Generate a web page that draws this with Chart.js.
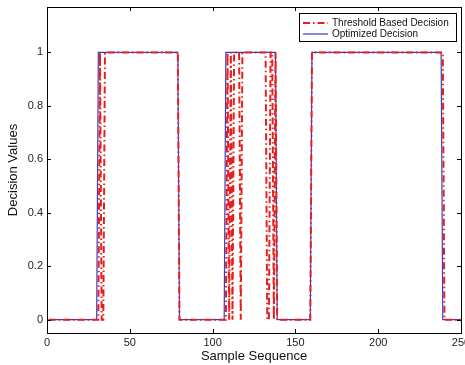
<!DOCTYPE html>
<html>
<head>
<meta charset="utf-8">
<script src="https://cdn.jsdelivr.net/npm/chart.js@4/dist/chart.umd.min.js"></script>
<style>
  html, body { margin: 0; padding: 0; background: #fff; }
  canvas { display: block; }
</style>
</head>
<body>
<canvas id="chart" width="465" height="365"></canvas>
<script>
// sample positions where the decisions switch
const thresholdX = [1, 31, 32, 33, 34, 35, 79, 80, 108, 109, 110, 111, 112, 113, 116, 117, 118, 132, 133, 134, 135, 136, 137, 138, 139, 159, 160, 239, 240, 250]
const thresholdY = [0, 0, 1, 0, 0, 1, 1, 0, 0, 1, 0, 1, 0, 1, 1, 0, 1, 1, 0, 0, 1, 1, 0, 1, 0, 0, 1, 1, 0, 0]
const optimizedX = [1, 30, 31, 79, 80, 107, 108, 138, 139, 159, 160, 238, 239, 250]
const optimizedY = [0, 0, 1, 1, 0, 0, 1, 1, 0, 0, 1, 1, 0, 0]

const xTicks = [0, 50, 100, 150, 200, 250]
const yTicks = [0, 0.2, 0.4, 0.6, 0.8, 1]
const seriesNames = ["Threshold Based Decision", "Optimized Decision"]

const FONT = "'Liberation Sans', Arial, Helvetica, sans-serif"
const toPoints = (xs, ys) => xs.map((x, i) => ({ x, y: ys[i] }))

// matlab style box with inward ticks + legend in the corner
const matlabBox = {
  id: "matlabBox",
  afterDraw(chart) {
    const { ctx, chartArea: a, scales } = chart
    const len = 4
    ctx.save()
    ctx.strokeStyle = "#000"
    ctx.lineWidth = 1
    ctx.strokeRect(Math.round(a.left) + 0.5, Math.round(a.top) + 0.5, Math.round(a.right - a.left), Math.round(a.bottom - a.top))
    ctx.beginPath()
    xTicks.forEach(v => {
      const px = Math.round(scales.x.getPixelForValue(v)) + 0.5
      ctx.moveTo(px, a.bottom); ctx.lineTo(px, a.bottom - len)
      ctx.moveTo(px, a.top); ctx.lineTo(px, a.top + len)
    })
    yTicks.forEach(v => {
      const py = Math.round(scales.y.getPixelForValue(v)) + 0.5
      ctx.moveTo(a.left, py); ctx.lineTo(a.left + len, py)
      ctx.moveTo(a.right, py); ctx.lineTo(a.right - len, py)
    })
    ctx.stroke()

    // legend
    const bx = 299.5, by = 13.5, bw = 157, bh = 28
    ctx.fillStyle = "#fff"
    ctx.fillRect(bx, by, bw, bh)
    ctx.strokeRect(bx, by, bw, bh)
    ctx.font = "10px " + FONT
    ctx.textBaseline = "middle"
    chart.data.datasets.forEach((ds, i) => {
      const y = 23 + i * 11
      ctx.beginPath()
      ctx.strokeStyle = ds.borderColor
      ctx.lineWidth = ds.borderWidth
      ctx.setLineDash(ds.borderDash || [])
      ctx.moveTo(303, y); ctx.lineTo(328, y)
      ctx.stroke()
      ctx.setLineDash([])
      ctx.fillStyle = "#111"
      ctx.fillText(seriesNames[i], 332, y)
    })
    ctx.restore()
  }
}

new Chart(document.getElementById("chart"), {
  type: "line",
  data: {
    datasets: [{
      label: seriesNames[0],
      data: toPoints(thresholdX, thresholdY),
      borderColor: "rgb(232, 30, 30)",
      borderWidth: 2,
      borderDash: [7, 3, 1.5, 3],
      pointRadius: 0,
      tension: 0,
      fill: false
    }, {
      label: seriesNames[1],
      data: toPoints(optimizedX, optimizedY),
      borderColor: "rgb(60, 60, 195)",
      borderWidth: 1.2,
      pointRadius: 0,
      tension: 0,
      fill: false
    }]
  },
  options: {
    responsive: false,
    animation: false,
    layout: { padding: { top: 7, right: 4, left: 0, bottom: 0 } },
    plugins: { legend: { display: false }, tooltip: { enabled: false } },
    scales: {
      x: {
        type: "linear",
        min: 0,
        max: 250,
        grid: { display: false, drawTicks: false },
        border: { display: false },
        afterBuildTicks: s => { s.ticks = xTicks.map(value => ({ value })) },
        afterFit: s => { s.height = 32; s.paddingLeft = 0; s.paddingRight = 0 },
        ticks: { padding: 3, color: "#222", font: { family: FONT, size: 11 }, maxRotation: 0, autoSkip: false },
        title: { display: true, text: "Sample Sequence", color: "#111", font: { family: FONT, size: 13 }, padding: { top: 0, bottom: 1 } }
      },
      y: {
        min: -0.05,
        max: 1.17,
        grid: { display: false, drawTicks: false },
        border: { display: false },
        afterBuildTicks: s => { s.ticks = yTicks.map(value => ({ value })) },
        afterFit: s => { s.width = 47; s.paddingTop = 0; s.paddingBottom = 0 },
        ticks: { padding: 4, color: "#222", font: { family: FONT, size: 11 }, callback: v => String(v) },
        title: { display: true, text: "Decision Values", color: "#111", font: { family: FONT, size: 13 }, padding: { top: 6, bottom: 0 } }
      }
    }
  },
  plugins: [matlabBox]
})
</script>
</body>
</html>
